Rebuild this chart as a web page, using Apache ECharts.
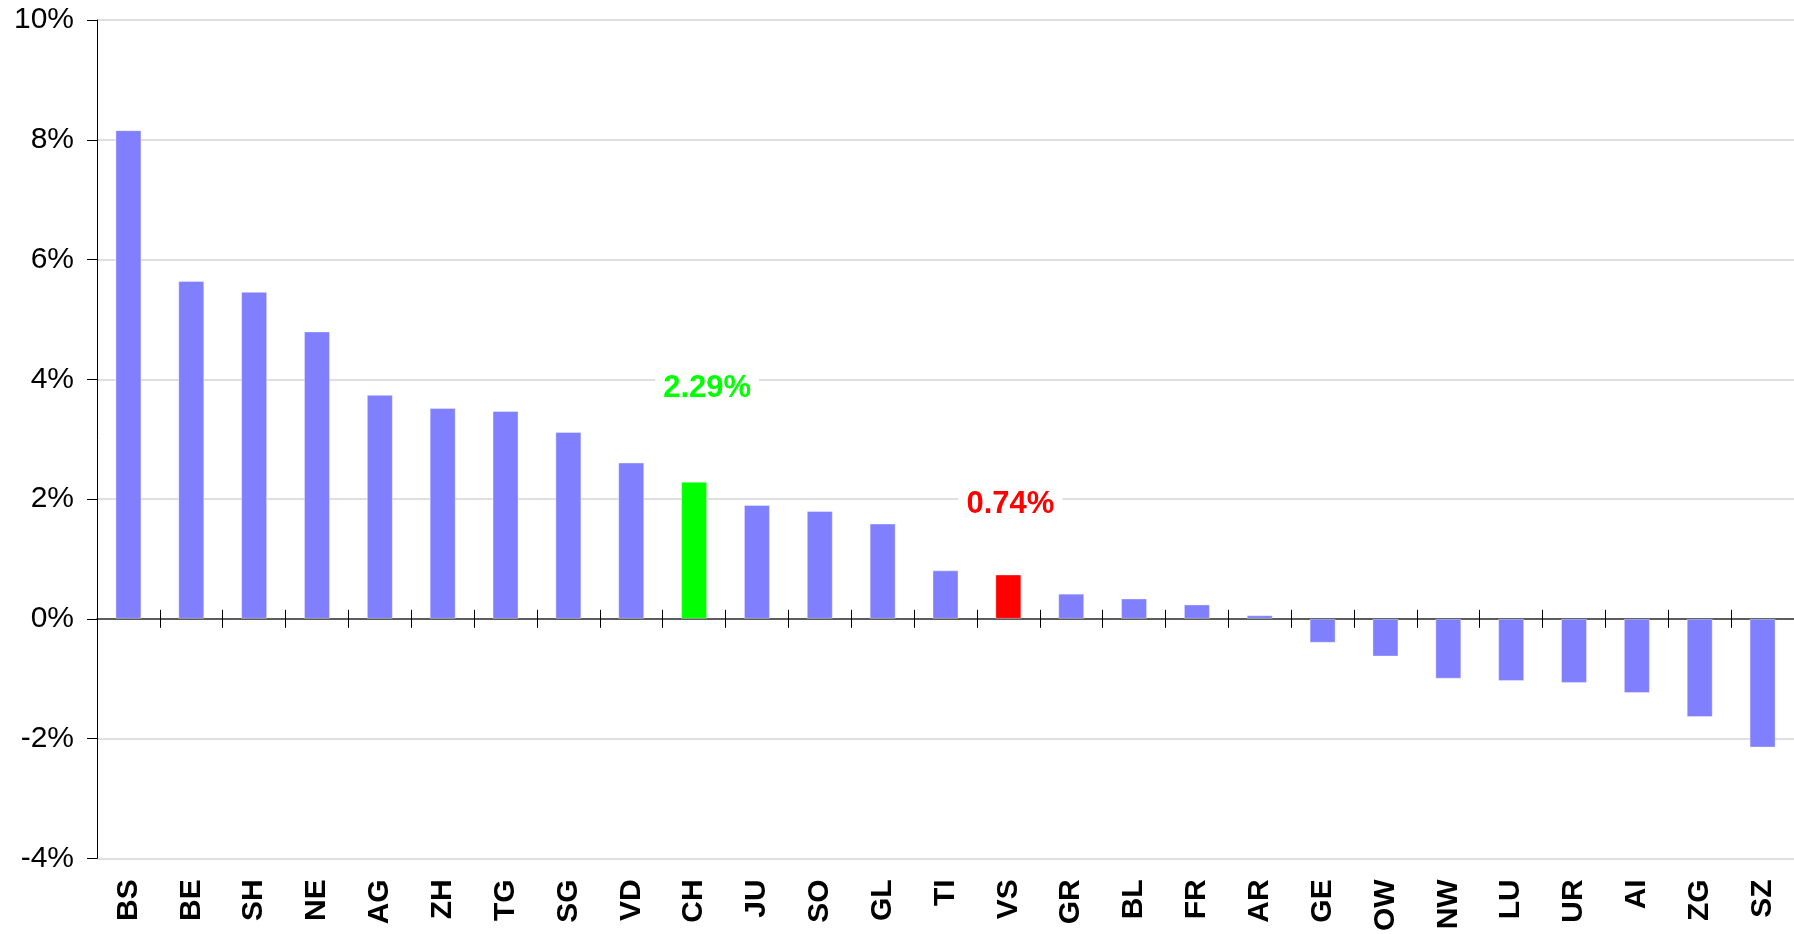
<!DOCTYPE html>
<html>
<head>
<meta charset="utf-8">
<script src="https://cdn.jsdelivr.net/npm/echarts@6/dist/echarts.min.js"></script>
<style>
html,body{margin:0;padding:0;background:#fff;}
#chart{width:1794px;height:934px;}
</style>
</head>
<body>
<div id="chart"></div>
<script>
const categories = ['BS','BE','SH','NE','AG','ZH','TG','SG','VD','CH','JU','SO','GL','TI','VS','GR','BL','FR','AR','GE','OW','NW','LU','UR','AI','ZG','SZ'];
const values = [8.16,5.64,5.46,4.80,3.74,3.52,3.47,3.12,2.61,2.29,1.90,1.80,1.59,0.81,0.74,0.42,0.34,0.24,0.06,-0.40,-0.63,-1.00,-1.04,-1.07,-1.24,-1.64,-2.15];
const highlight = { CH: '#00ff00', VS: '#ff0000' };
const annotationY = { CH: 3.84, VS: 1.91 };
const annotationShift = { CH: 13, VS: 2 };
const yTicks = { min: -4, max: 10, interval: 2 };

const FONT = 'Liberation Sans, Arial, sans-serif';
const baseColor = '#8080ff';

const barData = values.map((v, i) => ({
  value: v,
  itemStyle: { color: highlight[categories[i]] || baseColor }
}));

const annData = Object.keys(annotationY).map(c => ({
  value: [c, annotationY[c]],
  label: {
    formatter: values[categories.indexOf(c)].toFixed(2) + '%',
    color: highlight[c],
    offset: [annotationShift[c], 0]
  }
}));

const chart = echarts.init(document.getElementById('chart'));
chart.setOption({
  animation: false,
  grid: { left: 97, right: 0, top: 20, bottom: 73, containLabel: false },
  xAxis: [
    {
      type: 'category', data: categories, position: 'bottom',
      axisLine: { show: false, onZero: false }, axisTick: { show: false },
      axisLabel: { rotate: 90, margin: 21, fontSize: 30, fontWeight: 'bold', color: '#000', fontFamily: FONT, interval: 0 }
    },
    {
      type: 'category', data: categories, position: 'bottom',
      axisLine: { show: true, onZero: true, onZeroAxisIndex: 0, lineStyle: { color: '#333', width: 1.5 } },
      axisTick: { show: true, inside: false, length: 9, lineStyle: { color: '#000', width: 1 } },
      axisLabel: { show: false }
    },
    {
      type: 'category', data: categories, position: 'bottom',
      axisLine: { show: false, onZero: true, onZeroAxisIndex: 0 },
      axisTick: { show: true, inside: true, length: 9, lineStyle: { color: '#000', width: 1 } },
      axisLabel: { show: false }
    }
  ],
  yAxis: {
    type: 'value', min: yTicks.min, max: yTicks.max, interval: yTicks.interval,
    axisLine: { show: true, lineStyle: { color: '#000', width: 1 } },
    axisTick: { show: true, length: 10, lineStyle: { color: '#000' } },
    axisLabel: { formatter: '{value}%', fontSize: 30, color: '#000', margin: 23, fontFamily: FONT },
    splitLine: { show: true, lineStyle: { color: '#d4d4d4', width: 1.5 } }
  },
  series: [
    {
      type: 'bar', xAxisIndex: 0, data: barData, barWidth: 26,
      itemStyle: { borderColor: 'rgba(255,255,255,0.35)', borderWidth: 1 }
    },
    {
      type: 'scatter', xAxisIndex: 0, data: annData, symbolSize: 1,
      itemStyle: { color: 'rgba(0,0,0,0)', opacity: 1 }, z: 5, silent: true,
      label: {
        show: true, position: 'inside', fontSize: 31, fontWeight: 'bold', fontFamily: FONT,
        backgroundColor: '#fff', padding: [2, 8]
      }
    }
  ]
});
</script>
</body>
</html>
